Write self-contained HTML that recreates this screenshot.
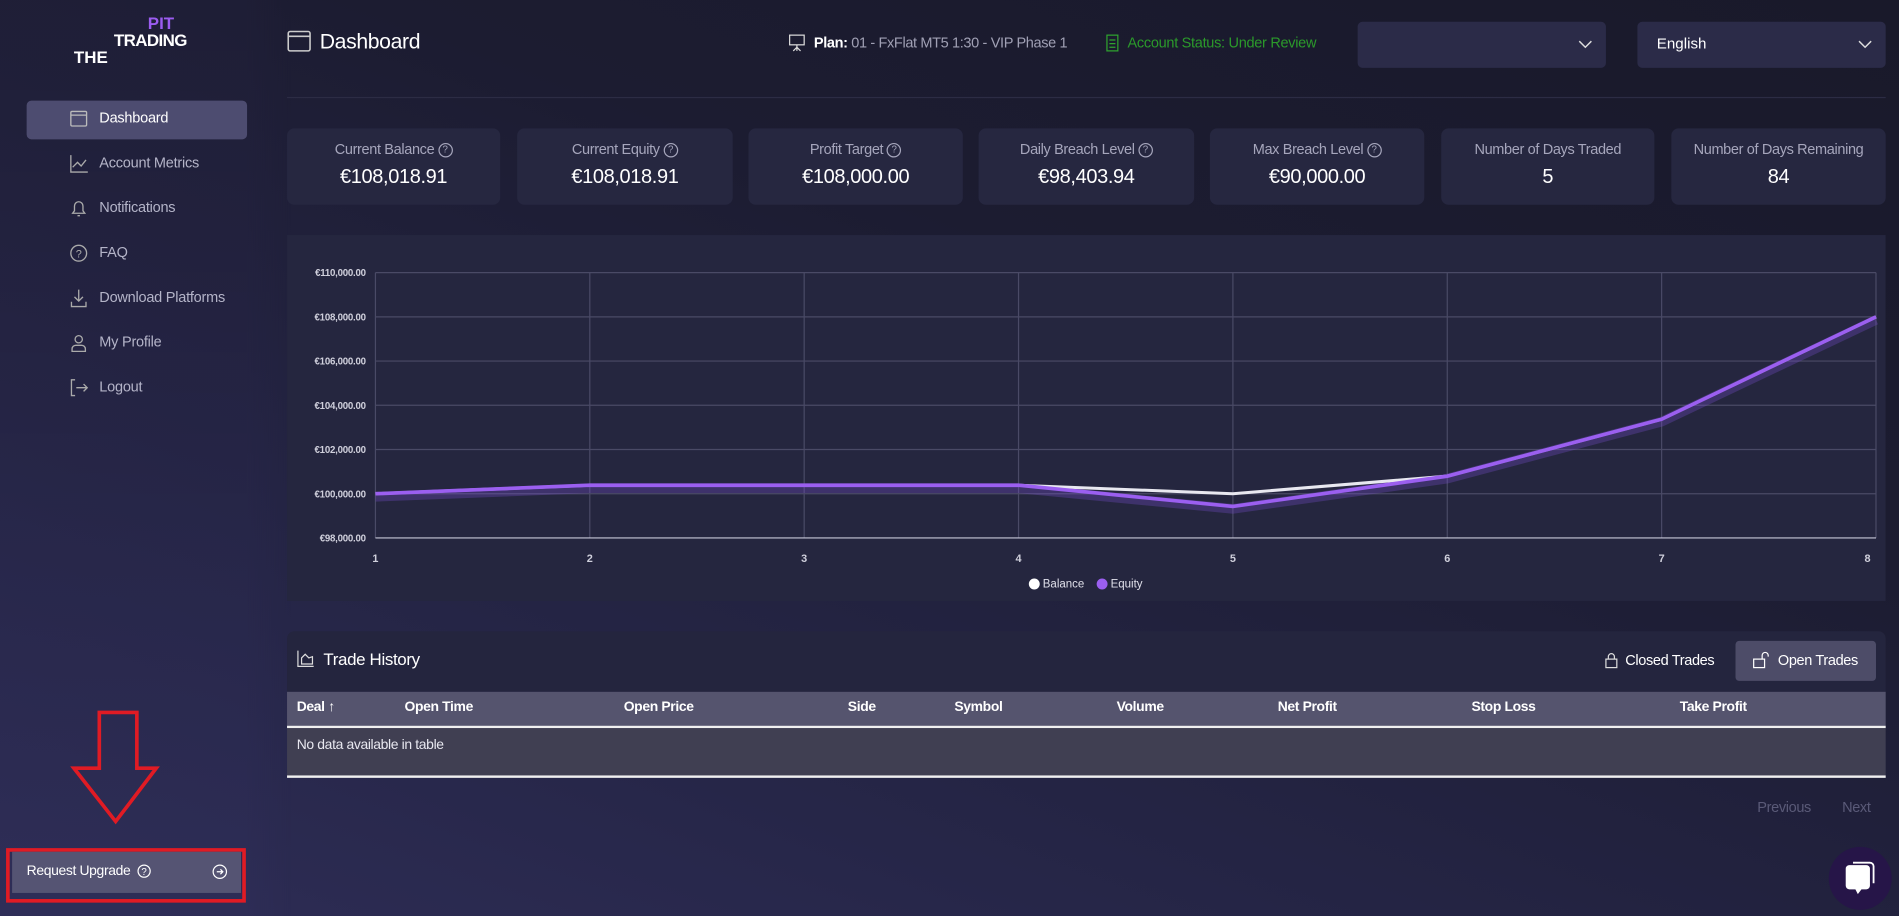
<!DOCTYPE html>
<html><head><meta charset="utf-8"><style>
html,body{margin:0;padding:0;width:1899px;height:916px;overflow:hidden;background:#1c1c30;font-family:"Liberation Sans",sans-serif}
#w{position:absolute;left:0;top:0;width:1568px;height:756px;transform-origin:0 0;transform:scale(1.2111,1.2116);
background:linear-gradient(200deg,#19192a 0%,#1c1c31 35%,#262648 75%,#2e2d56 100%);line-height:1.15}
.sb{position:absolute;left:0;top:0;width:240px;height:756px;background:linear-gradient(180deg,rgba(32,31,56,0.6) 0%,rgba(40,39,74,0.5) 55%,rgba(48,47,90,0.5) 100%);-webkit-mask-image:linear-gradient(90deg,#000 85%,transparent);mask-image:linear-gradient(90deg,#000 85%,transparent)}
.a{position:absolute;white-space:nowrap}
.nav{position:absolute;left:82px;font-size:12px;color:#b4b4c8;transform:translateY(-50%);letter-spacing:-0.2px}
.ic{position:absolute;left:57px;width:16px;height:16px;transform:translateY(-50%)}
.card{position:absolute;top:106px;height:63px;background:#262740;border-radius:6px;text-align:center;letter-spacing:-0.3px}
.card .l{margin-top:11px;font-size:12px;color:#a6a6bc}
.card .v{margin-top:6px;font-size:16.5px;color:#fff}
.q{display:inline-block;width:10px;height:10px;border:1px solid #a6a6bc;border-radius:50%;font-size:8px;line-height:10px;vertical-align:1px;letter-spacing:0;text-align:center}
.th{position:absolute;top:578px;font-size:11.5px;font-weight:bold;color:#fff;letter-spacing:-0.3px}
</style></head><body><div id="w">
<div class="sb"></div>
<div class="a" style="left:122px;top:12px;font-size:14px;line-height:14px;font-weight:bold;color:#9b5cf0">PIT</div>
<div class="a" style="left:94px;top:26px;font-size:14px;line-height:14px;font-weight:bold;color:#fff;letter-spacing:-0.5px">TRADING</div>
<div class="a" style="left:61px;top:40px;font-size:14px;line-height:14px;font-weight:bold;color:#fff">THE</div>
<div class="a" style="left:22px;top:83px;width:182px;height:32px;background:#4d4c70;border-radius:4px"></div>
<svg class="ic" style="top:98px" viewBox="0 0 16 16"><rect x="1.5" y="2" width="13" height="12" rx="1" fill="none" stroke="#bbb" stroke-width="1.1"/><line x1="1.5" y1="5" x2="14.5" y2="5" stroke="#bbb"/></svg>
<div class="nav" style="top:98px;color:#fff">Dashboard</div>
<svg class="ic" style="top:135px" viewBox="0 0 16 16"><path d="M1.5 1v14h14M3 11l4-4 3 3 4-5" fill="none" stroke="#aaa" stroke-width="1.1"/></svg>
<div class="nav" style="top:135px">Account Metrics</div>
<svg class="ic" style="top:172px" viewBox="0 0 16 16"><path d="M3 12h10l-1.5-2V6a3.5 3.5 0 0 0-7 0v4zM7 14h2" fill="none" stroke="#aaa" stroke-width="1.1"/></svg>
<div class="nav" style="top:172px">Notifications</div>
<svg class="ic" style="top:209px" viewBox="0 0 16 16"><circle cx="8" cy="8" r="6.5" fill="none" stroke="#aaa" stroke-width="1.1"/><text x="8" y="11.5" font-size="9" fill="#aaa" text-anchor="middle" font-family="Liberation Sans">?</text></svg>
<div class="nav" style="top:209px">FAQ</div>
<svg class="ic" style="top:246px" viewBox="0 0 16 16"><path d="M8 1v9M4.5 7 8 10.5 11.5 7M2 11v4h12v-4" fill="none" stroke="#aaa" stroke-width="1.1"/></svg>
<div class="nav" style="top:246px">Download Platforms</div>
<svg class="ic" style="top:283px" viewBox="0 0 16 16"><circle cx="8" cy="5" r="3" fill="none" stroke="#aaa" stroke-width="1.1"/><path d="M2.5 15v-2a3 3 0 0 1 3-3h5a3 3 0 0 1 3 3v2z" fill="none" stroke="#aaa" stroke-width="1.1"/></svg>
<div class="nav" style="top:283px">My Profile</div>
<svg class="ic" style="top:320px" viewBox="0 0 16 16"><path d="M5 1.5H2v13h3M6 8h9M12 5l3 3-3 3" fill="none" stroke="#aaa" stroke-width="1.1"/></svg>
<div class="nav" style="top:320px">Logout</div>

<svg class="a" style="left:0;top:580px" width="222" height="176">
<path d="M82 8h31v46h16l-33.5 44L61 54h21z" fill="none" stroke="#e01b24" stroke-width="3"/>
<rect x="6.5" y="121.5" width="195" height="42" fill="none" stroke="#e01b24" stroke-width="3"/>
</svg>
<div class="a" style="left:10px;top:703px;width:189px;height:34px;background:#555473"></div>
<div class="a" style="left:22px;top:713px;font-size:11.5px;color:#fff;letter-spacing:-0.3px">Request Upgrade</div>
<svg class="a" style="left:113px;top:713px" width="12" height="12"><circle cx="6" cy="6" r="5" fill="none" stroke="#fff"/><text x="6" y="9" font-size="8" fill="#fff" text-anchor="middle" font-family="Liberation Sans">?</text></svg>
<svg class="a" style="left:175px;top:713px" width="13" height="13"><circle cx="6.5" cy="6.5" r="5.5" fill="none" stroke="#fff"/><path d="M4 6.5h5M7 4.5l2 2-2 2" fill="none" stroke="#fff"/></svg>

<svg class="a" style="left:237px;top:25px" width="20" height="18" viewBox="0 0 20 18"><rect x="1" y="1" width="18" height="16" rx="1.5" fill="none" stroke="#ccc" stroke-width="1.3"/><line x1="1" y1="5" x2="19" y2="5" stroke="#ccc" stroke-width="1.3"/></svg>
<div class="a" style="left:264px;top:24px;font-size:17.5px;color:#fff;letter-spacing:-0.3px">Dashboard</div>
<svg class="a" style="left:651px;top:28px" width="14" height="15"><rect x="1" y="1" width="12" height="8" fill="none" stroke="#ddd"/><path d="M7 9v5M4 14l3-3 3 3" fill="none" stroke="#ddd"/></svg>
<div class="a" style="left:672px;top:29px;font-size:12px;color:#a0a0b4;letter-spacing:-0.3px"><b style="color:#fff">Plan:</b> 01 - FxFlat MT5 1:30 - VIP Phase 1</div>
<svg class="a" style="left:913px;top:28px" width="12" height="15"><rect x="1" y="1" width="9" height="13" fill="none" stroke="#2fa52f"/><path d="M3 5h5M3 8h5M3 11h5" stroke="#2fa52f"/></svg>
<div class="a" style="left:931px;top:29px;font-size:12px;color:#2b9a2b;letter-spacing:-0.25px">Account Status: Under Review</div>
<div class="a" style="left:1121px;top:18px;width:205px;height:38px;background:#2b2b48;border-radius:4px"></div>
<svg class="a" style="left:1303px;top:33px" width="12" height="8"><path d="M1 1l5 5 5-5" fill="none" stroke="#ddd" stroke-width="1.2"/></svg>
<div class="a" style="left:1352px;top:18px;width:205px;height:38px;background:#2b2b48;border-radius:4px"></div>
<div class="a" style="left:1368px;top:29px;font-size:12.5px;color:#fff">English</div>
<svg class="a" style="left:1534px;top:33px" width="12" height="8"><path d="M1 1l5 5 5-5" fill="none" stroke="#ddd" stroke-width="1.2"/></svg>
<div class="a" style="left:237px;top:80px;width:1320px;height:1px;background:#2c2c44"></div>

<div class="card" style="left:237px;width:176px"><div class="l">Current Balance <span class="q">?</span></div><div class="v">€108,018.91</div></div>
<div class="card" style="left:427px;width:178px"><div class="l">Current Equity <span class="q">?</span></div><div class="v">€108,018.91</div></div>
<div class="card" style="left:618px;width:177px"><div class="l">Profit Target <span class="q">?</span></div><div class="v">€108,000.00</div></div>
<div class="card" style="left:808px;width:178px"><div class="l">Daily Breach Level <span class="q">?</span></div><div class="v">€98,403.94</div></div>
<div class="card" style="left:999px;width:177px"><div class="l">Max Breach Level <span class="q">?</span></div><div class="v">€90,000.00</div></div>
<div class="card" style="left:1190px;width:176px"><div class="l">Number of Days Traded</div><div class="v">5</div></div>
<div class="card" style="left:1380px;width:177px"><div class="l">Number of Days Remaining</div><div class="v">84</div></div>

<svg class="a" style="left:237px;top:194px" width="1320" height="302" font-family="Liberation Sans">
<rect width="1320" height="302" fill="#25263f"/>
<g stroke="#4a4a66" stroke-width="1">
<line x1="73" y1="31" x2="1312" y2="31"/><line x1="73" y1="67.5" x2="1312" y2="67.5"/><line x1="73" y1="104" x2="1312" y2="104"/><line x1="73" y1="140.5" x2="1312" y2="140.5"/><line x1="73" y1="177" x2="1312" y2="177"/><line x1="73" y1="213.5" x2="1312" y2="213.5"/>
<line x1="73" y1="31" x2="73" y2="250"/><line x1="250" y1="31" x2="250" y2="250"/><line x1="427" y1="31" x2="427" y2="250"/><line x1="604" y1="31" x2="604" y2="250"/><line x1="781" y1="31" x2="781" y2="250"/><line x1="958" y1="31" x2="958" y2="250"/><line x1="1135" y1="31" x2="1135" y2="250"/><line x1="1312" y1="31" x2="1312" y2="250"/>
</g>
<line x1="73" y1="250" x2="1312" y2="250" stroke="#c8c8d8"/>
<g font-size="8" font-weight="bold" fill="#d0d0dc" text-anchor="end" letter-spacing="-0.2">
<text x="65" y="34">€110,000.00</text><text x="65" y="70.5">€108,000.00</text><text x="65" y="107">€106,000.00</text><text x="65" y="143.5">€104,000.00</text><text x="65" y="180">€102,000.00</text><text x="65" y="216.5">€100,000.00</text><text x="65" y="253">€98,000.00</text></g>
<g font-size="9" font-weight="bold" fill="#d0d0dc" text-anchor="middle">
<text x="73" y="270">1</text><text x="250" y="270">2</text><text x="427" y="270">3</text><text x="604" y="270">4</text><text x="781" y="270">5</text><text x="958" y="270">6</text><text x="1135" y="270">7</text><text x="1305" y="270">8</text></g>
<polyline points="73,216 250,209 427,209 604,209 781,226 958,201 1135,154 1312,70" fill="none" stroke="#7a4fd0" stroke-opacity="0.3" stroke-width="8"/>
<polyline points="73,213.5 250,206.5 427,206.5 604,206.5 781,213.5 958,199 1135,152 1312,67.5" fill="none" stroke="#e8e8f0" stroke-width="2.5"/>
<polyline points="73,213.5 250,206.5 427,206.5 604,206.5 781,224 958,199 1135,152 1312,67.5" fill="none" stroke="#9b5ff0" stroke-width="3"/>
<circle cx="617" cy="288" r="4.5" fill="#fff"/><text x="624" y="291" font-size="9.5" fill="#e0e0ea">Balance</text>
<circle cx="673" cy="288" r="4.5" fill="#9b5ff0"/><text x="680" y="291" font-size="9.5" fill="#e0e0ea">Equity</text>
</svg>

<div class="a" style="left:237px;top:521px;width:1320px;height:50px;background:#24253e;border-radius:6px 6px 0 0"></div>
<svg class="a" style="left:245px;top:536px" width="15" height="15"><path d="M1 1v13h13M4 12V7l3-3 3 3 3-1v6z" fill="none" stroke="#ddd"/></svg>
<div class="a" style="left:267px;top:536px;font-size:14px;color:#fff;letter-spacing:-0.3px">Trade History</div>
<svg class="a" style="left:1325px;top:538px" width="12" height="14"><rect x="1" y="6" width="9" height="7" fill="none" stroke="#ddd"/><path d="M3 6V4a2.5 2.5 0 0 1 5 0v2" fill="none" stroke="#ddd"/></svg>
<div class="a" style="left:1342px;top:539px;font-size:12px;color:#fff;letter-spacing:-0.3px">Closed Trades</div>
<div class="a" style="left:1433px;top:529px;width:116px;height:33px;background:#4d4c68;border-radius:3px"></div>
<svg class="a" style="left:1447px;top:537px" width="14" height="15"><rect x="1" y="7" width="9" height="7" fill="none" stroke="#fff"/><path d="M8 7V4a2.5 2.5 0 0 1 5 0v1" fill="none" stroke="#fff"/></svg>
<div class="a" style="left:1468px;top:539px;font-size:12px;color:#fff;letter-spacing:-0.3px">Open Trades</div>
<div class="a" style="left:237px;top:571px;width:1320px;height:28px;background:#55546e"></div>
<div class="a" style="left:237px;top:599px;width:1320px;height:2px;background:#f0f0f0"></div>
<div class="a" style="left:237px;top:601px;width:1320px;height:39px;background:#403f52"></div>
<div class="a" style="left:237px;top:640px;width:1320px;height:1.5px;background:#f0f0f0"></div>
<div class="th" style="left:245px">Deal ↑</div><div class="th" style="left:334px">Open Time</div><div class="th" style="left:515px">Open Price</div><div class="th" style="left:700px">Side</div><div class="th" style="left:788px">Symbol</div><div class="th" style="left:922px">Volume</div><div class="th" style="left:1055px">Net Profit</div><div class="th" style="left:1215px">Stop Loss</div><div class="th" style="left:1387px">Take Profit</div>
<div class="a" style="left:245px;top:609px;font-size:11.5px;color:#e8e8f0;letter-spacing:-0.3px">No data available in table</div>
<div class="a" style="left:1451px;top:660px;font-size:12px;color:#5a5a78;letter-spacing:-0.3px">Previous</div>
<div class="a" style="left:1521px;top:660px;font-size:12px;color:#5a5a78;letter-spacing:-0.3px">Next</div>
<div class="a" style="left:1510px;top:699px;width:52px;height:52px;border-radius:50%;background:#261548"></div>
<svg class="a" style="left:1521px;top:709px" width="30" height="32"><path d="M6 5h14a3 3 0 0 1 3 3v14a3 3 0 0 1-3 3h-4l-3 4-2-4H6a3 3 0 0 1-3-3V8a3 3 0 0 1 3-3z" fill="#fff"/><path d="M9 3h14a3 3 0 0 1 3 3v14" fill="none" stroke="#fff" stroke-width="1.5"/></svg>
</div></body></html>
